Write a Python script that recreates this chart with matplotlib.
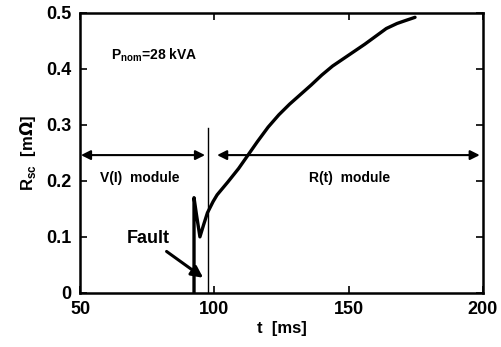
import matplotlib
matplotlib.use("Agg")
import matplotlib.pyplot as plt

plt.rcParams['font.family'] = ['Liberation Sans', 'DejaVu Sans']
plt.rcParams['font.weight'] = 'bold'

# R_sc curve
t_ms = [92.4, 92.4, 93.3, 94.6, 96.0, 97.4, 99.5, 101.0, 105.0, 109.0, 112.5,
        116.0, 120.0, 124.0, 128.0, 132.0, 136.0, 140.0, 144.0, 148.0, 152.0,
        156.0, 160.0, 164.0, 168.0, 171.0, 174.7]
r_sc = [0.0, 0.170, 0.140, 0.100, 0.122, 0.143, 0.163, 0.175, 0.198, 0.222, 0.246,
        0.270, 0.296, 0.318, 0.337, 0.354, 0.371, 0.389, 0.405, 0.418, 0.431,
        0.444, 0.458, 0.472, 0.481, 0.486, 0.492]

t_switch = 97.7
switch_top = 0.295
arrow_y = 0.246

fig = plt.figure(figsize=(5.01, 3.47), dpi=100)
ax = fig.add_axes([0.160, 0.156, 0.804, 0.807])

ax.plot(t_ms, r_sc, color='black', lw=2.4, solid_joinstyle='round',
        solid_capstyle='round')
ax.plot([t_switch, t_switch], [0, switch_top], color='black', lw=1.0)

# module arrows
ax.annotate('', xy=(50.3, arrow_y), xytext=(96.5, arrow_y),
            arrowprops=dict(arrowstyle='<|-|>', color='black', lw=1.5,
                            mutation_scale=14, shrinkA=0, shrinkB=0))
ax.annotate('', xy=(101.0, arrow_y), xytext=(198.8, arrow_y),
            arrowprops=dict(arrowstyle='<|-|>', color='black', lw=1.5,
                            mutation_scale=14, shrinkA=0, shrinkB=0))

ax.text(57.5, 0.205, 'V(I)  module', fontsize=10, va='center', ha='left')
ax.text(150.5, 0.205, 'R(t)  module', fontsize=10, va='center', ha='center')
ax.text(61.5, 0.425, r'P$_{\mathregular{nom}}$=28 kVA', fontsize=10,
        va='center', ha='left')

ax.annotate('Fault', xy=(95.8, 0.027), xytext=(83.5, 0.097),
            fontsize=13, ha='right', va='center',
            arrowprops=dict(arrowstyle='-|>', color='black', lw=2.2,
                            mutation_scale=17, shrinkA=2, shrinkB=0))

ax.set_xlim(50, 200)
ax.set_ylim(0, 0.5)
ax.set_xticks([50, 100, 150, 200])
ax.set_yticks([0, 0.1, 0.2, 0.3, 0.4, 0.5])
ax.set_yticklabels(['0', '0.1', '0.2', '0.3', '0.4', '0.5'])
ax.tick_params(direction='in', top=True, right=True, length=5, width=1.2,
               labelsize=13, pad=6)
for lab in ax.get_xticklabels() + ax.get_yticklabels():
    lab.set_fontweight('bold')
for s in ax.spines.values():
    s.set_linewidth(1.8)

ax.set_xlabel('t  [ms]', fontsize=12, fontweight='bold', labelpad=2)
ax.set_ylabel(r'R$_{\mathregular{sc}}$  [m$\Omega$]', fontsize=12,
              fontweight='bold', labelpad=6)

fig.savefig('out.png', dpi=100)
